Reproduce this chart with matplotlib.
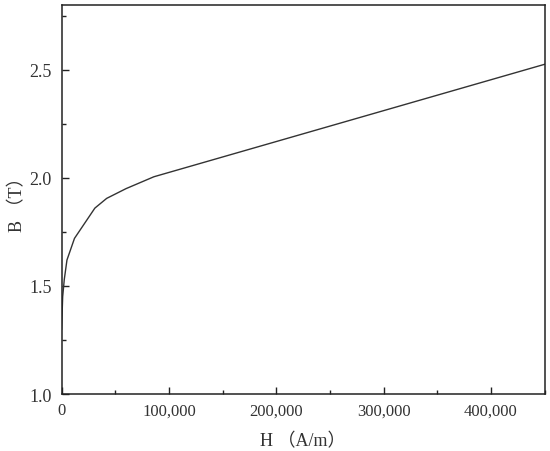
import matplotlib
matplotlib.use("Agg")
import matplotlib.pyplot as plt
from matplotlib.ticker import MultipleLocator, FuncFormatter

H = [0, 1000, 2500, 5000, 12000, 31000, 42000, 60000, 86000, 450000]
B = [1.30, 1.45, 1.53, 1.62, 1.72, 1.86, 1.905, 1.95, 2.005, 2.525]
x_label = "H （A/m）"
y_label = "B （T）"

fam = ["Liberation Serif", "Noto Sans CJK SC"]
plt.rcParams["font.family"] = fam

fig = plt.figure(figsize=(5.5, 4.52), dpi=100)
ax = fig.add_axes([0.112, 0.126, 0.878, 0.861])
ax.plot(H, B, color="#333333", lw=1.0)
ax.set_xlim(0, 450000)
ax.set_ylim(1.0, 2.8)
ax.xaxis.set_major_locator(MultipleLocator(100000))
ax.xaxis.set_minor_locator(MultipleLocator(50000))
ax.yaxis.set_major_locator(MultipleLocator(0.5))
ax.yaxis.set_minor_locator(MultipleLocator(0.25))
ax.xaxis.set_major_formatter(FuncFormatter(lambda v, p: f"{int(v):,}"))
ax.yaxis.set_major_formatter(FuncFormatter(lambda v, p: f"{v:.1f}"))
ax.tick_params(which="both", direction="in", top=False, right=False, width=1.0, color="#222222", labelcolor="#333333")
ax.tick_params(axis="y", which="major", length=5, pad=7, labelsize=13)
ax.tick_params(axis="x", which="major", length=5, pad=6, labelsize=12)
ax.tick_params(which="minor", length=3)
for s in ax.spines.values():
    s.set_linewidth(1.1)
    s.set_color("#222222")
ax.set_xlabel(x_label, fontsize=13, color="#333333", family=fam, labelpad=10)
ax.set_ylabel(y_label, fontsize=13, color="#333333", family=fam, labelpad=2)
fig.savefig("out.png", dpi=100)
